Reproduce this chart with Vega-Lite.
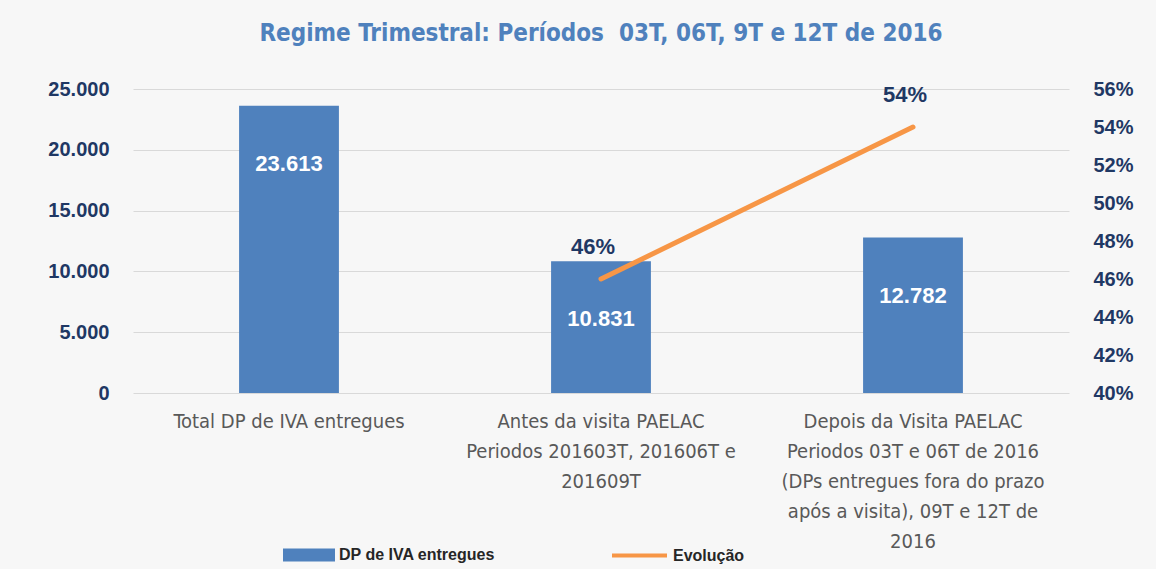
{
  "$schema": "https://vega.github.io/schema/vega-lite/v6.json",
  "width": 936,
  "height": 304,
  "autosize": {"type": "none"},
  "padding": {"left": 133, "top": 89, "right": 87, "bottom": 176},
  "background": "#f7f7f7",
  "title": {
    "text": "Regime Trimestral: Períodos \u00a003T, 06T, 9T e 12T de 2016",
    "font": "DejaVu Sans Condensed",
    "fontSize": 24,
    "fontWeight": "bold",
    "color": "#4F81BD",
    "anchor": "middle",
    "offset": 33
  },
  "data": {
    "values": [
      {"categoria": "Total DP de IVA entregues", "valor": 23613, "evolucao": null, "serie": "DP de IVA entregues", "serie2": "Evolução"},
      {"categoria": "Antes da visita PAELAC|Periodos 201603T, 201606T e|201609T", "valor": 10831, "evolucao": 0.46, "serie": "DP de IVA entregues", "serie2": "Evolução"},
      {"categoria": "Depois da Visita PAELAC|Periodos 03T e 06T de 2016|(DPs entregues fora do prazo|após a visita), 09T e 12T de|2016", "valor": 12782, "evolucao": 0.54, "serie": "DP de IVA entregues", "serie2": "Evolução"}
    ]
  },
  "encoding": {
    "x": {
      "field": "categoria",
      "type": "nominal",
      "sort": null,
      "scale": {"paddingInner": 0, "paddingOuter": 0},
      "axis": {
        "title": null,
        "labelAngle": 0,
        "labelExpr": "split(datum.label, '|')",
        "labelFont": "DejaVu Sans Condensed",
        "labelFontSize": 20,
        "labelColor": "#595959",
        "labelLineHeight": 30,
        "labelPadding": 18,
        "labelBaseline": "top",
        "labelLimit": 400,
        "domain": false,
        "ticks": false
      }
    }
  },
  "layer": [
    {
      "layer": [
        {
          "mark": {"type": "bar", "width": {"band": 0.32}},
          "encoding": {
            "y": {
              "field": "valor",
              "type": "quantitative",
              "scale": {"domain": [0, 25000], "nice": false},
              "axis": {
                "title": null,
                "values": [0, 5000, 10000, 15000, 20000, 25000],
                "labelExpr": "replace(format(datum.value, ','), ',', '.')",
                "labelFont": "Liberation Sans",
                "labelFontWeight": "bold",
                "labelFontSize": 20,
                "labelColor": "#1F3864",
                "labelPadding": 24,
                "domain": false,
                "ticks": false,
                "grid": true,
                "gridColor": "#d9d9d9"
              }
            },
            "fill": {
              "field": "serie",
              "type": "nominal",
              "scale": {"range": ["#4F81BD"]},
              "legend": {
                "title": null,
                "orient": "none",
                "legendX": 150,
                "legendY": 440,
                "symbolType": "M-1,-0.25H1V0.25H-1Z",
                "symbolSize": 2704,
                "symbolStrokeWidth": 0,
                "labelFont": "Liberation Sans",
                "labelFontWeight": "bold",
                "labelFontSize": 16,
                "labelColor": "#262626",
                "labelOffset": 4,
                "padding": 0
              }
            }
          }
        },
        {
          "mark": {"type": "text", "dy": 58, "color": "white", "font": "Liberation Sans", "fontWeight": "bold", "fontSize": 22},
          "encoding": {
            "y": {"field": "valor", "type": "quantitative"},
            "text": {"field": "valor", "type": "quantitative", "format": ",d"}
          }
        }
      ]
    },
    {
      "layer": [
        {
          "mark": {"type": "line", "strokeWidth": 5, "strokeCap": "round"},
          "encoding": {
            "y": {
              "field": "evolucao",
              "type": "quantitative",
              "scale": {"domain": [0.4, 0.56], "zero": false, "nice": false},
              "axis": {
                "title": null,
                "orient": "right",
                "values": [0.4, 0.42, 0.44, 0.46, 0.48, 0.5, 0.52, 0.54, 0.56],
                "format": ".0%",
                "labelOverlap": false,
                "labelSeparation": 0,
                "labelFont": "Liberation Sans",
                "labelFontWeight": "bold",
                "labelFontSize": 20,
                "labelColor": "#1F3864",
                "labelPadding": 24,
                "domain": false,
                "ticks": false,
                "grid": false
              }
            },
            "stroke": {
              "field": "serie2",
              "type": "nominal",
              "scale": {"range": ["#F79646"]},
              "legend": {
                "title": null,
                "orient": "none",
                "legendX": 477,
                "legendY": 437,
                "symbolType": "stroke",
                "symbolSize": 3025,
                "symbolStrokeWidth": 4,
                "labelFont": "Liberation Sans",
                "labelFontWeight": "bold",
                "labelFontSize": 16,
                "labelColor": "#262626",
                "labelOffset": 4,
                "padding": 0
              }
            }
          }
        },
        {
          "mark": {"type": "text", "dy": -32, "dx": -8, "color": "#1F3864", "font": "Liberation Sans", "fontWeight": "bold", "fontSize": 22},
          "encoding": {
            "y": {
              "field": "evolucao",
              "type": "quantitative",
              "axis": {
                "title": null,
                "orient": "right",
                "values": [0.4, 0.42, 0.44, 0.46, 0.48, 0.5, 0.52, 0.54, 0.56],
                "format": ".0%",
                "labelOverlap": false,
                "labelSeparation": 0,
                "labelFont": "Liberation Sans",
                "labelFontWeight": "bold",
                "labelFontSize": 20,
                "labelColor": "#1F3864",
                "labelPadding": 24,
                "domain": false,
                "ticks": false,
                "grid": false
              }
            },
            "text": {"field": "evolucao", "type": "quantitative", "format": ".0%"}
          }
        }
      ]
    }
  ],
  "resolve": {"scale": {"y": "independent"}},
  "config": {"view": {"stroke": null}, "axis": {"labelOverlap": false}, "locale": {"number": {"decimal": ",", "thousands": ".", "grouping": [3], "currency": ["", " €"]}}}
}
